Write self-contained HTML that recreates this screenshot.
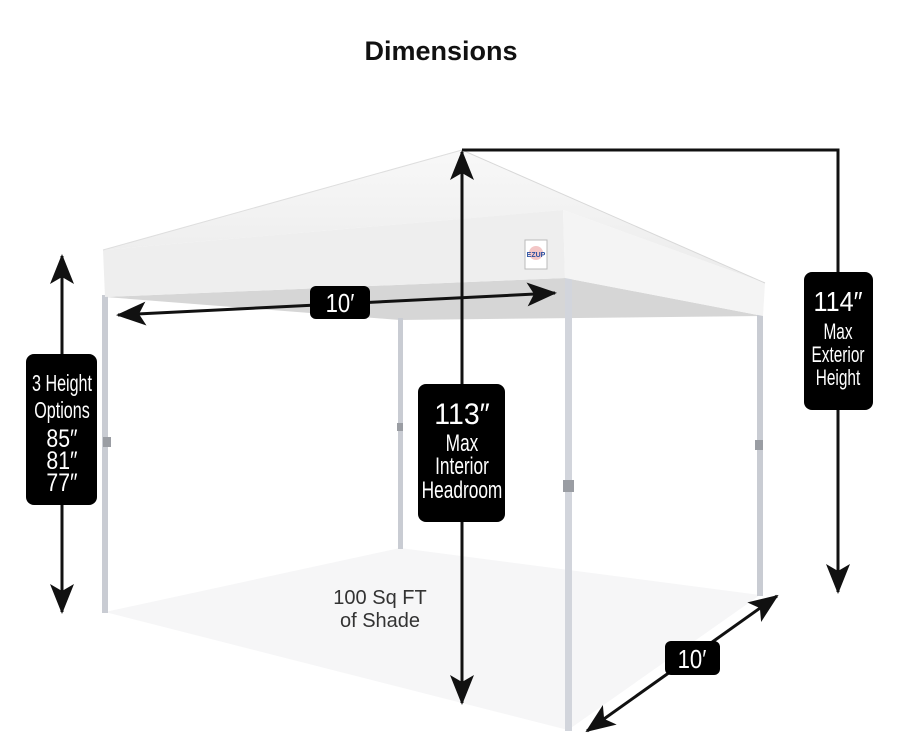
<!DOCTYPE html>
<html><head><meta charset="utf-8"><style>
html,body{margin:0;padding:0;background:#fff;}
svg{display:block;}
.t{font-family:"Liberation Sans Narrow","Liberation Sans",sans-serif;fill:#fff;}
</style></head><body>
<svg width="900" height="754" viewBox="0 0 900 754" xmlns="http://www.w3.org/2000/svg">
<defs>
<marker id="a" viewBox="0 0 30 24" refX="28" refY="12" markerWidth="30" markerHeight="24" markerUnits="userSpaceOnUse" orient="auto-start-reverse">
<path d="M0,0 L30,12 L0,24 L7,12 Z" fill="#111"/>
</marker>
<linearGradient id="roof" x1="0" y1="0" x2="0" y2="1">
<stop offset="0" stop-color="#f8f8f8"/><stop offset="1" stop-color="#ebebeb"/>
</linearGradient>
</defs>
<text x="441" y="60" text-anchor="middle" font-family="Liberation Sans, sans-serif" font-weight="bold" font-size="27" fill="#111">Dimensions</text>

<polygon points="105,612 400,548 760,595 568,730" fill="#f6f6f7"/>

<polygon points="105,297 565,278 763,316 400,320" fill="#d6d6d6"/>
<rect x="102" y="295" width="6" height="318" fill="#c9ccd3"/>
<rect x="398" y="318" width="5" height="231" fill="#c9ccd3"/>
<rect x="757" y="314" width="6" height="282" fill="#c9ccd3"/>
<rect x="565" y="276" width="7" height="455" fill="#d2d5dc"/>
<rect x="563" y="480" width="11" height="12" fill="#9a9da3"/>
<rect x="103" y="437" width="8" height="10" fill="#9a9da3"/>
<rect x="755" y="440" width="8" height="10" fill="#9a9da3"/>
<rect x="397" y="423" width="6" height="8" fill="#9a9da3"/>

<polygon points="103,250 462,150 765,283 563,210" fill="url(#roof)"/>
<polygon points="103,250 563,210 565,278 105,297" fill="#eeeeee"/>
<polygon points="563,210 765,283 763,316 565,278" fill="#f4f4f4"/>
<line x1="103" y1="250" x2="462" y2="150" stroke="#dedede" stroke-width="1"/>
<line x1="462" y1="150" x2="765" y2="283" stroke="#d8d8d8" stroke-width="1"/>
<rect x="525" y="240" width="22" height="29" fill="#fff" stroke="#bbb"/>
<circle cx="536" cy="253" r="7" fill="#f3c6c6"/>
<text x="536" y="257" text-anchor="middle" font-family="Liberation Sans" font-size="7" font-weight="bold" fill="#2a4fa0">EZUP</text>

<g stroke="#111" stroke-width="3" fill="none">
<line x1="62" y1="256" x2="62" y2="612" marker-start="url(#a)" marker-end="url(#a)"/>
<line x1="462" y1="152" x2="462" y2="703" marker-start="url(#a)" marker-end="url(#a)"/>
<polyline points="462,150 838,150 838,592" marker-end="url(#a)"/>
<line x1="118" y1="315" x2="555" y2="293" marker-start="url(#a)" marker-end="url(#a)"/>
<line x1="587" y1="731" x2="777" y2="596" marker-start="url(#a)" marker-end="url(#a)"/>
</g>

<rect x="26" y="354" width="71" height="151" rx="8" fill="#000"/>
<g class="t" text-anchor="middle">
<text transform="translate(62,391) scale(0.7,1)" font-size="23">3 Height</text>
<text transform="translate(62,418) scale(0.7,1)" font-size="23">Options</text>
<text transform="translate(62,447) scale(0.85,1)" font-size="25">85″</text>
<text transform="translate(62,469) scale(0.85,1)" font-size="25">81″</text>
<text transform="translate(62,491) scale(0.85,1)" font-size="25">77″</text>
</g>

<rect x="418" y="384" width="87" height="138" rx="8" fill="#000"/>
<g class="t" text-anchor="middle">
<text transform="translate(462,424) scale(0.95,1)" font-size="30">113″</text>
<text transform="translate(462,451) scale(0.72,1)" font-size="24">Max</text>
<text transform="translate(462,474) scale(0.72,1)" font-size="24">Interior</text>
<text transform="translate(462,498) scale(0.72,1)" font-size="24">Headroom</text>
</g>

<rect x="804" y="272" width="69" height="138" rx="8" fill="#000"/>
<g class="t" text-anchor="middle">
<text transform="translate(838,311) scale(0.9,1)" font-size="28">114″</text>
<text transform="translate(838,339) scale(0.7,1)" font-size="22">Max</text>
<text transform="translate(838,362) scale(0.7,1)" font-size="22">Exterior</text>
<text transform="translate(838,385) scale(0.7,1)" font-size="22">Height</text>
</g>

<rect x="310" y="286" width="60" height="33" rx="6" fill="#000"/>
<text class="t" transform="translate(340,312) scale(0.85,1)" font-size="26" text-anchor="middle">10′</text>

<rect x="665" y="641" width="55" height="34" rx="6" fill="#000"/>
<text class="t" transform="translate(692,668) scale(0.85,1)" font-size="26" text-anchor="middle">10′</text>

<g font-family="Liberation Sans, sans-serif" font-size="20" fill="#333" text-anchor="middle">
<text x="380" y="604">100 Sq FT</text>
<text x="380" y="627">of Shade</text>
</g>
</svg>
</body></html>
